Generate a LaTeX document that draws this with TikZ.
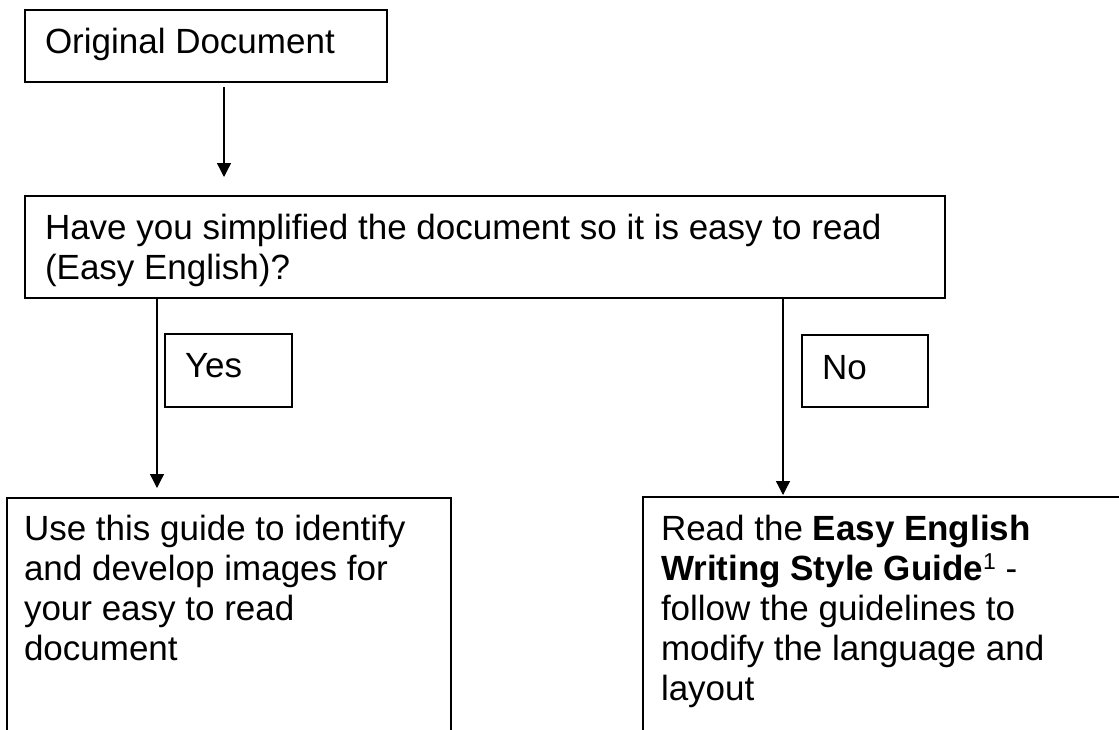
\documentclass[tikz,border=0pt]{standalone}
\usepackage{fontspec}
\setmainfont{Liberation Sans}
\usetikzlibrary{arrows.meta}
\newcommand{\supone}{{\fontsize{23}{23}\selectfont\raisebox{11pt}{1}}}
\begin{document}
\begin{tikzpicture}[x=1pt,y=-1pt,
  box/.style={draw, line width=1.4pt, anchor=north west, inner sep=0pt, outer sep=0pt},
  txt/.style={anchor=north west, inner sep=0pt, outer sep=0pt, align=left, font=\fontsize{35}{40}\selectfont},
  arr/.style={line width=1.3pt, -{Triangle[length=14pt,width=14pt]}}]
\useasboundingbox (0,0) rectangle (1119,729);
\begin{scope}
\clip (0,0) rectangle (1119,729);
% boxes
\node[box, minimum width=362pt, minimum height=72pt] (orig) at (25,10) {};
\node[txt, anchor=base west] (origt) at (45,53) {Original Document};
\node[box, minimum width=920pt, minimum height=102pt] (q) at (25,196) {};
\node[txt] (qt) at (45,209) {\rule{0pt}{30pt}Have you simplified the document so it is easy to read\\(Easy English)?};
\node[box, minimum width=127pt, minimum height=73pt] (yes) at (165,334) {};
\node[txt, anchor=base west] (yest) at (185,377) {Yes};
\node[box, minimum width=126pt, minimum height=72pt] (no) at (802,335) {};
\node[txt, anchor=base west] (not) at (822,379) {No};
\node[box, minimum width=444pt, minimum height=320pt] (use) at (7,498) {};
\node[txt] (uset) at (24,510) {\rule{0pt}{30pt}Use this guide to identify\\and develop images for\\your easy to read\\document};
\node[box, minimum width=600pt, minimum height=320pt] (read) at (643,497) {};
\node[txt] (readt) at (661,510) {\rule{0pt}{30pt}Read the \textbf{Easy English}\\\textbf{Writing Style Guide}\supone{} -\\follow the guidelines to\\modify the language and\\layout};
% connectors
\coordinate (tx) at (224,0);
\coordinate (lx) at (157,0);
\coordinate (rx) at (783,0);
\draw[arr, shorten <=5pt, shorten >=19pt] (orig.south -| tx) -- (q.north -| tx);
\draw[arr, shorten >=10pt] (q.south -| lx) -- (use.north -| lx);
\draw[arr, shorten >=2pt] (q.south -| rx) -- (read.north -| rx);
\end{scope}
\end{tikzpicture}
\end{document}
